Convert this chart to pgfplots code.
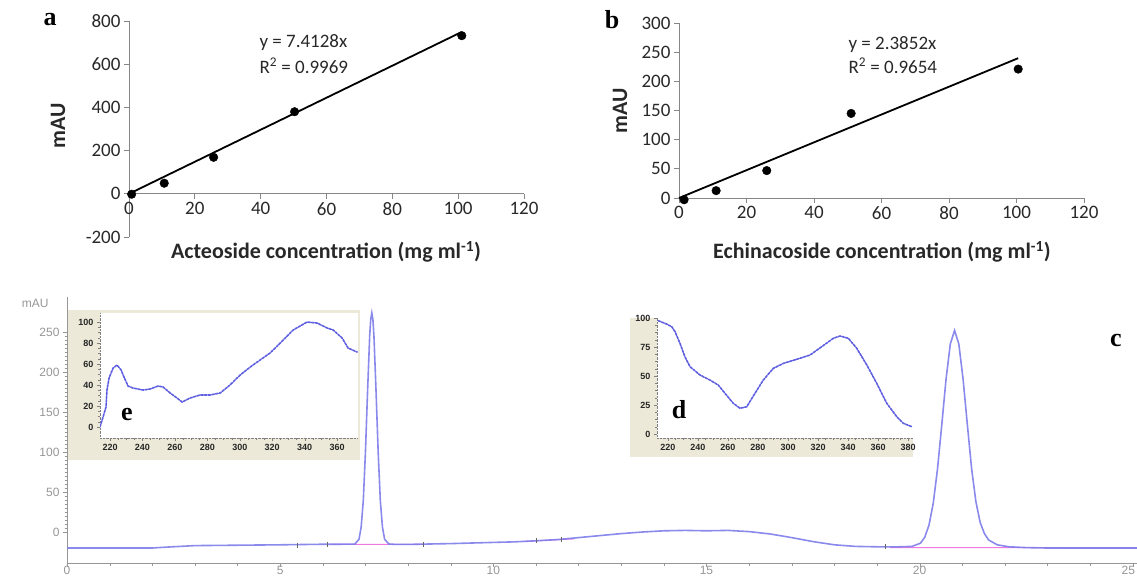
\documentclass[border=0pt]{standalone}
\usepackage{fontspec}
\setmainfont{Carlito}
\newfontfamily\serifb{Liberation Serif}
\newfontfamily\arial{Liberation Sans}
\usepackage{pgfplots}
\pgfplotsset{compat=1.18}

\definecolor{excelaxis}{RGB}{134,134,134}
\definecolor{ticktext}{RGB}{40,40,40}
\definecolor{trace}{RGB}{125,125,235}
\definecolor{spec}{RGB}{95,95,225}
\definecolor{basepink}{RGB}{240,120,225}
\definecolor{beige}{RGB}{236,233,216}
\definecolor{chromgray}{RGB}{150,150,150}

\newcommand\ticfont{\fontsize{19bp}{22bp}\selectfont}
\newcommand\labfont{\bfseries\fontsize{22bp}{26bp}\selectfont}
\newcommand\panfont{\serifb\bfseries\fontsize{26bp}{28bp}\selectfont}
\newcommand\chromfont{\arial\fontsize{12bp}{13bp}\selectfont}
\newcommand\insfont{\arial\bfseries\fontsize{9bp}{10bp}\selectfont}

\pgfplotsset{
  excel/.style={scale only axis, axis x line=middle, axis y line=left,
    axis line style={excelaxis,-,line width=0.8bp}, tick style={excelaxis,line width=0.8bp},
    tick align=outside, major tick length=5bp,
    hide obscured x ticks=false, hide obscured y ticks=false,
    ticklabel style={font=\ticfont, text=ticktext},
    /pgf/number format/assume math mode=true, clip=false,
    xmin=0, xmax=120, xtick={0,20,...,120}},
  inset/.style={scale only axis, axis background/.style={fill=white},
    axis x line=bottom, axis y line=left,
    axis line style={gray,-,densely dotted}, tick style={gray},
    tick align=outside, major tick length=3bp, minor tick length=2bp,
    minor x tick num=3, minor y tick num=3,
    ticklabel style={font=\insfont, text=black!85},
    /pgf/number format/assume math mode=true},
}

\begin{document}
\begin{tikzpicture}
\useasboundingbox (0,0) rectangle (1137bp,-578bp);

% ---- panel a
\begin{axis}[excel, at={(129bp,-237bp)}, anchor=south west, width=395bp, height=216bp,
  ymin=-200, ymax=800, ytick={-200,0,...,800}]
\addplot[black, line width=1.8bp] coordinates {(0,0) (101,748.7)};
\addplot[only marks, mark=*, mark size=4.3bp, black] coordinates {(0.8,-2) (10.7,49) (25.7,169) (50.3,380) (101.1,732)};
\end{axis}
\node[anchor=west, font=\ticfont, text=ticktext] at (256bp,-43bp) {y = 7.4128x};
\node[anchor=west, font=\ticfont, text=ticktext] at (256bp,-66bp) {R\textsuperscript{2} = 0.9969};
\node[font=\labfont, text=ticktext] at (326bp,-252bp) {Acteoside concentration (mg ml\textsuperscript{-1})};
\node[font=\labfont, text=ticktext, rotate=90] at (58bp,-126bp) {mAU};
\node[font=\panfont] at (50bp,-20bp) {a};

% ---- panel b
\begin{axis}[excel, at={(679bp,-198bp)}, anchor=south west, width=405bp, height=175bp,
  ymin=0, ymax=300, ytick={0,50,...,300}]
\addplot[black, line width=1.8bp] coordinates {(0,0) (100.5,239.7)};
\addplot[only marks, mark=*, mark size=4.3bp, black] coordinates {(1.5,-3) (11,12.6) (26,47) (51,145) (100.5,221)};
\end{axis}
\node[anchor=west, font=\ticfont, text=ticktext] at (845bp,-45bp) {y = 2.3852x};
\node[anchor=west, font=\ticfont, text=ticktext] at (845bp,-66bp) {R\textsuperscript{2} = 0.9654};
\node[font=\labfont, text=ticktext] at (882bp,-252bp) {Echinacoside concentration (mg ml\textsuperscript{-1})};
\node[font=\labfont, text=ticktext, rotate=90] at (620bp,-111bp) {mAU};
\node[font=\panfont] at (612bp,-20bp) {b};

% ---- panel c: chromatogram
\begin{axis}[scale only axis, at={(67bp,-563bp)}, anchor=south west, width=1070bp, height=265.6bp,
  xmin=0, xmax=25.1, ymin=-38.75, ymax=293.25,
  axis x line=bottom, axis y line=left,
  axis line style={chromgray,-}, tick style={chromgray},
  xtick={0,5,...,25}, xticklabels={0,5,10,15,20,{\hspace*{-9bp}25}},
  minor x tick num=4, ytick={0,50,...,250}, minor y tick num=9,
  tick align=outside, major tick length=4bp, minor tick length=2.5bp,
  ticklabel style={font=\chromfont, text=chromgray},
  xticklabel style={yshift=4bp},
  /pgf/number format/assume math mode=true]
\addplot[basepink, line width=1bp] coordinates {(6.2,-15.3) (8.4,-15.6)};
\addplot[basepink, line width=1bp] coordinates {(10.7,-11.8) (11.9,-8.6)};
\addplot[basepink, line width=1bp] coordinates {(19.3,-19.4) (25.1,-19.8)};
\addplot[trace, line width=1.6bp, opacity=0.9] coordinates {
(0,-20) (1,-20) (2,-20) (2.3,-19) (3,-17) (4,-16.5) (5,-16) (6,-15.3) (6.75,-15.2)
(6.85,-9) (6.90,6) (6.95,39) (7.00,99) (7.05,175) (7.10,245) (7.125,266) (7.15,274)
(7.175,266) (7.20,245) (7.25,175) (7.30,99) (7.35,39) (7.40,6) (7.45,-9) (7.55,-15)
(7.7,-15.5) (8,-15.5) (9,-14.5) (10,-13) (10.5,-12.3) (11,-11) (11.5,-9.5) (12,-7)
(12.5,-4.5) (13,-2) (13.5,0) (14,1.5) (14.5,2) (15,1.5) (15.5,2) (16,0.5) (16.5,-2.5)
(17,-7) (17.5,-12) (18,-16) (18.5,-18) (19,-18.5) (19.5,-18.5) (19.82,-18)
(20.02,-14) (20.12,-6.6) (20.22,8.6) (20.32,36) (20.42,79) (20.52,134) (20.62,191)
(20.72,235) (20.82,252) (20.92,235) (21.02,191) (21.12,134) (21.22,79) (21.32,38)
(21.42,12) (21.52,-2) (21.62,-10) (21.82,-16) (22.1,-18.5) (22.5,-19.5) (23,-20) (25.1,-20)};
\addplot[only marks, mark=|, mark size=2.5bp, black!60] coordinates {(5.4,-16.5) (6.1,-15.3) (8.35,-15.6) (11.0,-11) (11.6,-9.3) (19.2,-18.5)};
\end{axis}
\node[font=\chromfont, text=chromgray, anchor=east] at (52bp,-303bp) {mAU};
\node[font=\panfont] at (1116bp,-340bp) {c};

% ---- inset e
\fill[beige] (68bp,-310bp) rectangle (360bp,-460bp);
\begin{axis}[inset, at={(100bp,-438bp)}, anchor=south west, width=258bp, height=125bp,
  xmin=213.8, xmax=372.9, ymin=-10.5, ymax=108.6,
  xtick={220,240,...,360}, ytick={0,20,...,100}]
\addplot[spec, line width=1.6bp, line cap=round, dash pattern=on 2.5bp off 1.2bp] coordinates {
(213.8,0) (215.7,9.5) (217.5,19) (218.1,35.2) (219.4,46.7) (221.9,56.2) (224.3,59)
(226.8,54.3) (228.6,47.6) (231.1,39) (234.2,37.1) (240.4,35.2) (244.7,36.2) (249.6,39)
(252.7,38.1) (257.0,32.4) (261.3,27.6) (264.4,23.8) (269.4,27.6) (275.5,30.5)
(281.7,30.5) (287.9,32.4) (294.0,40) (300.2,49.5) (306.4,57.1) (312.5,63.8) (318.7,70.5)
(324.9,80) (332.9,92.4) (341.5,100) (347.7,99) (353.9,94.3) (357.6,92.4) (363.1,84.8)
(366.8,75.2) (372.4,71.4)};
\end{axis}
\node[font=\panfont] at (127bp,-415bp) {e};

% ---- inset d
\fill[beige] (630bp,-318bp) rectangle (913bp,-457bp);
\begin{axis}[inset, at={(657bp,-438bp)}, anchor=south west, width=256bp, height=120bp,
  xmin=212.7, xmax=383.3, ymin=-3.45, ymax=100,
  xtick={220,240,...,380}, ytick={0,25,...,100}]
\addplot[spec, line width=1.6bp, line cap=round, dash pattern=on 2.5bp off 1.2bp] coordinates {
(213.5,97.7) (219.1,94.8) (222.5,92.5) (224.7,88.2) (228,78.2) (231.3,66.6) (234.7,58)
(241.3,50.9) (248,46.5) (253.5,42.2) (258,35.1) (263.5,26.5) (268,22.2) (272.5,23.5)
(278,35.1) (283.5,46.5) (290.2,56.6) (296.9,60.9) (305.8,64.4) (314.7,68.1) (322.5,75.3)
(330.2,82.5) (334.7,84.5) (340.2,82.5) (345.8,73.9) (352.5,59.5) (359.1,43.7)
(365.8,26.5) (372.5,14.9) (376.9,9.2) (382.5,6.3)};
\end{axis}
\node[font=\panfont] at (679bp,-410bp) {d};
\end{tikzpicture}
\end{document}
